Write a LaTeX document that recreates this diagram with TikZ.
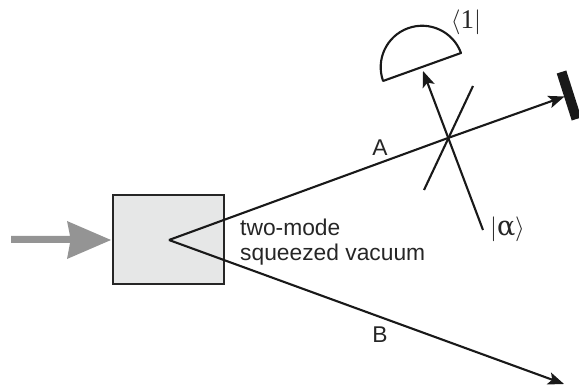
\documentclass[tikz,border=0pt]{standalone}
\usepackage{fontspec}
\setmainfont{Liberation Sans}
\newfontfamily\serifx{Liberation Serif}
\newfontfamily\symx{DejaVu Serif}
\usetikzlibrary{arrows.meta}
\definecolor{boxfill}{HTML}{E6E7E7}
\tikzset{
  beam/.style={line width=2.1pt,draw=black!90,-{Stealth[length=16pt,width=12.5pt,inset=3.5pt]}},
  plain/.style={line width=2.1pt,draw=black!90},
  lbl/.style={inner sep=0pt,font=\fontsize{22.8}{26}\selectfont,text=black!85},
  ket/.style={inner sep=0pt,font=\fontsize{27}{30}\selectfont\serifx,text=black!85},
}
\begin{document}
\begin{tikzpicture}[x=1pt,y=-1pt]
\useasboundingbox (0,0) rectangle (579,390);
\clip (0,0) rectangle (579,390);
\node[draw=black!85,line width=2pt,fill=boxfill,minimum width=111pt,minimum height=89pt,inner sep=0pt] (crystal) at (168.5,239.5) {};
\coordinate (src) at (169,240);
\coordinate (cross) at (448,138);
\coordinate (tipA) at (564.5,96.5);
\coordinate (tipB) at (564,384);
\coordinate (alphaStart) at (483,230);
\coordinate (alphaTip) at (423,71);
\coordinate (bsA) at (424,190);
\coordinate (bsB) at (473,86);
\coordinate (detA) at (461,53);
\coordinate (detB) at (383,81);
\coordinate (mirA) at (561.5,72);
\coordinate (mirB) at (576.5,119);
% pump arrow
\fill[black!42] (11,236) -- (70,236) -- (67,221) -- (111,240) -- (67,259) -- (70,243) -- (11,243) -- cycle;
% beams
\draw[plain] (src) -- (cross);
\draw[beam] (cross) -- (tipA);
\draw[beam] (src) -- (tipB);
\draw[beam] (alphaStart) -- (alphaTip);
\draw[plain] (bsA) -- (bsB);
% detector
\draw[plain,line join=round] (detB) -- (detA) arc[start angle=-20,end angle=-200,x radius=41.4pt,y radius=-41.4pt];
% mirror
\draw[black!90,line width=10pt] (mirA) -- (mirB);
% labels
\node[lbl,anchor=center] (labA) at (380,147.5) {A};
\node[lbl,anchor=center] (labB) at (380,335) {B};
\node[lbl,anchor=base west] (two) at (240,236) {two-mode};
\node[lbl,anchor=base west] (sq) at (240,261) {squeezed vacuum};
\node[ket,anchor=center] (bra) at (466,22) {$\langle$1$|$};
\node[ket,anchor=center] (ketalpha) at (507.5,229.5) {$|$\symx α$\rangle$};
\end{tikzpicture}
\end{document}
